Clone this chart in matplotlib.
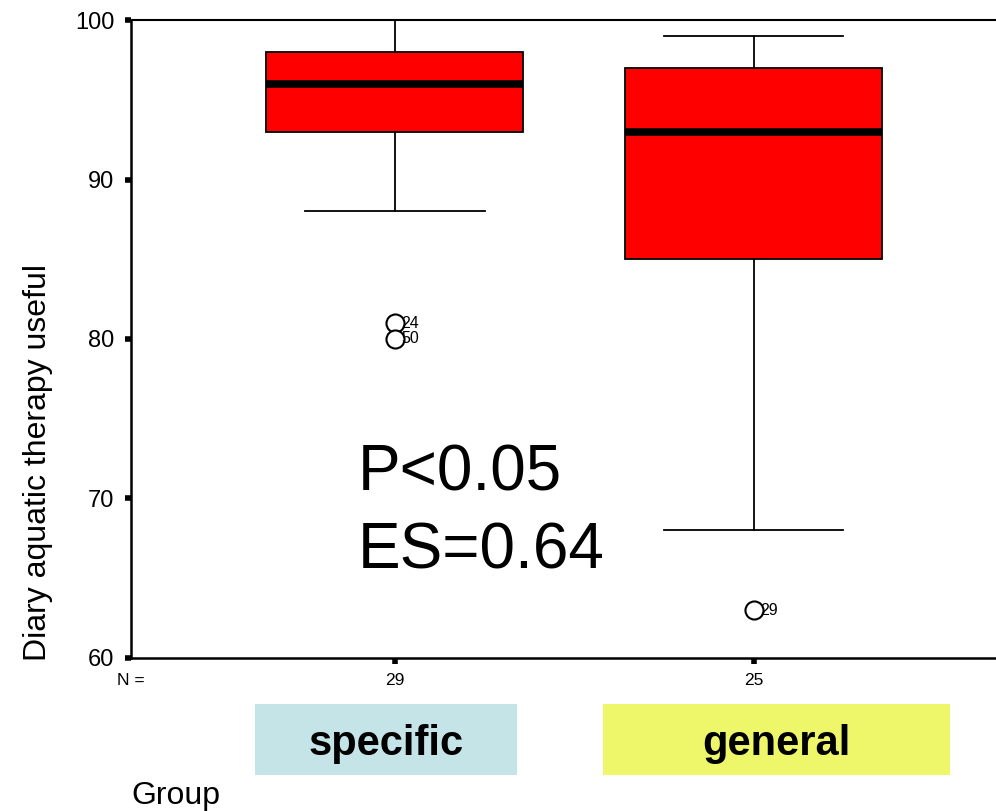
import matplotlib as mpl
import matplotlib.pyplot as plt
from matplotlib.patches import Rectangle

mpl.rcParams['font.family'] = ['Liberation Sans', 'DejaVu Sans']

# box statistics
groups = ['specific', 'general']
n_counts = ['29', '25']
medians = [96, 93]
q1 = [93, 85]
q3 = [98, 97]
whis_lo = [88, 68]
whis_hi = [100, 99]
outliers = [[81, 80], [63]]
outlier_ids = [['24', '50'], ['29']]
group_colors = ['#c5e4e8', '#eef76a']

fig = plt.figure(figsize=(9.96, 8.11), dpi=100)
ax = fig.add_axes([0.1315, 0.1887, 0.8685, 0.7866])

positions = [1, 2]
stats = []
for i in range(2):
    stats.append(dict(med=medians[i], q1=q1[i], q3=q3[i],
                      whislo=whis_lo[i], whishi=whis_hi[i],
                      fliers=outliers[i], label=n_counts[i]))

ax.bxp(stats, positions=positions, widths=0.716, patch_artist=True,
       showfliers=True, manage_ticks=False,
       boxprops=dict(facecolor='#ff0000', edgecolor='black', linewidth=1.3),
       medianprops=dict(color='black', linewidth=5.5),
       whiskerprops=dict(color='black', linewidth=1.3),
       capprops=dict(color='black', linewidth=1.3),
       capwidths=0.5,
       flierprops=dict(marker='o', markerfacecolor='white',
                       markeredgecolor='black', markersize=13,
                       markeredgewidth=1.5))

for i in range(2):
    for v, lab in zip(outliers[i], outlier_ids[i]):
        ax.annotate(lab, (positions[i], v), xytext=(4.5, 0),
                    textcoords='offset points', va='center', ha='left',
                    fontsize=11.5)

ax.set_xlim(0.265, 2.675)
ax.set_ylim(60, 100)
ax.set_yticks([60, 70, 80, 90, 100])
ax.set_xticks(positions)
ax.set_xticklabels(n_counts, fontsize=12.5)
ax.tick_params(axis='y', labelsize=17, length=4, width=4, pad=8)
ax.tick_params(axis='x', length=4, width=4, pad=7)
ax.spines['right'].set_visible(False)
for s in ['left', 'bottom']:
    ax.spines[s].set_linewidth(1.8)
ax.spines['top'].set_linewidth(1.5)

ax.set_ylabel('Diary aquatic therapy useful', fontsize=23)
ax.yaxis.set_label_coords(-0.09, 0.307)

ax.text(-0.016, -0.036, 'N =', transform=ax.transAxes, fontsize=12.5,
        ha='left', va='center')

ax.text(0.262, 0.263, 'P<0.05', transform=ax.transAxes,
        fontsize=46, ha='left', va='baseline')
ax.text(0.262, 0.141, 'ES=0.64', transform=ax.transAxes,
        fontsize=46, ha='left', va='baseline')

# group label boxes under the axis
boxes = [(255, 517), (603, 950)]
for (x0, x1), name, col in zip(boxes, groups, group_colors):
    fig.patches.append(Rectangle((x0 / 996, 1 - 775 / 811), (x1 - x0) / 996,
                                 71 / 811, transform=fig.transFigure,
                                 facecolor=col, edgecolor='none'))
    fig.text((x0 + x1) / 2 / 996, 1 - 755 / 811, name, fontsize=30,
             fontweight='bold', ha='center', va='baseline')

fig.text(131 / 996, 1 - 796 / 811, 'Group', fontsize=23, ha='left', va='center')

fig.savefig('out.png', dpi=100)
